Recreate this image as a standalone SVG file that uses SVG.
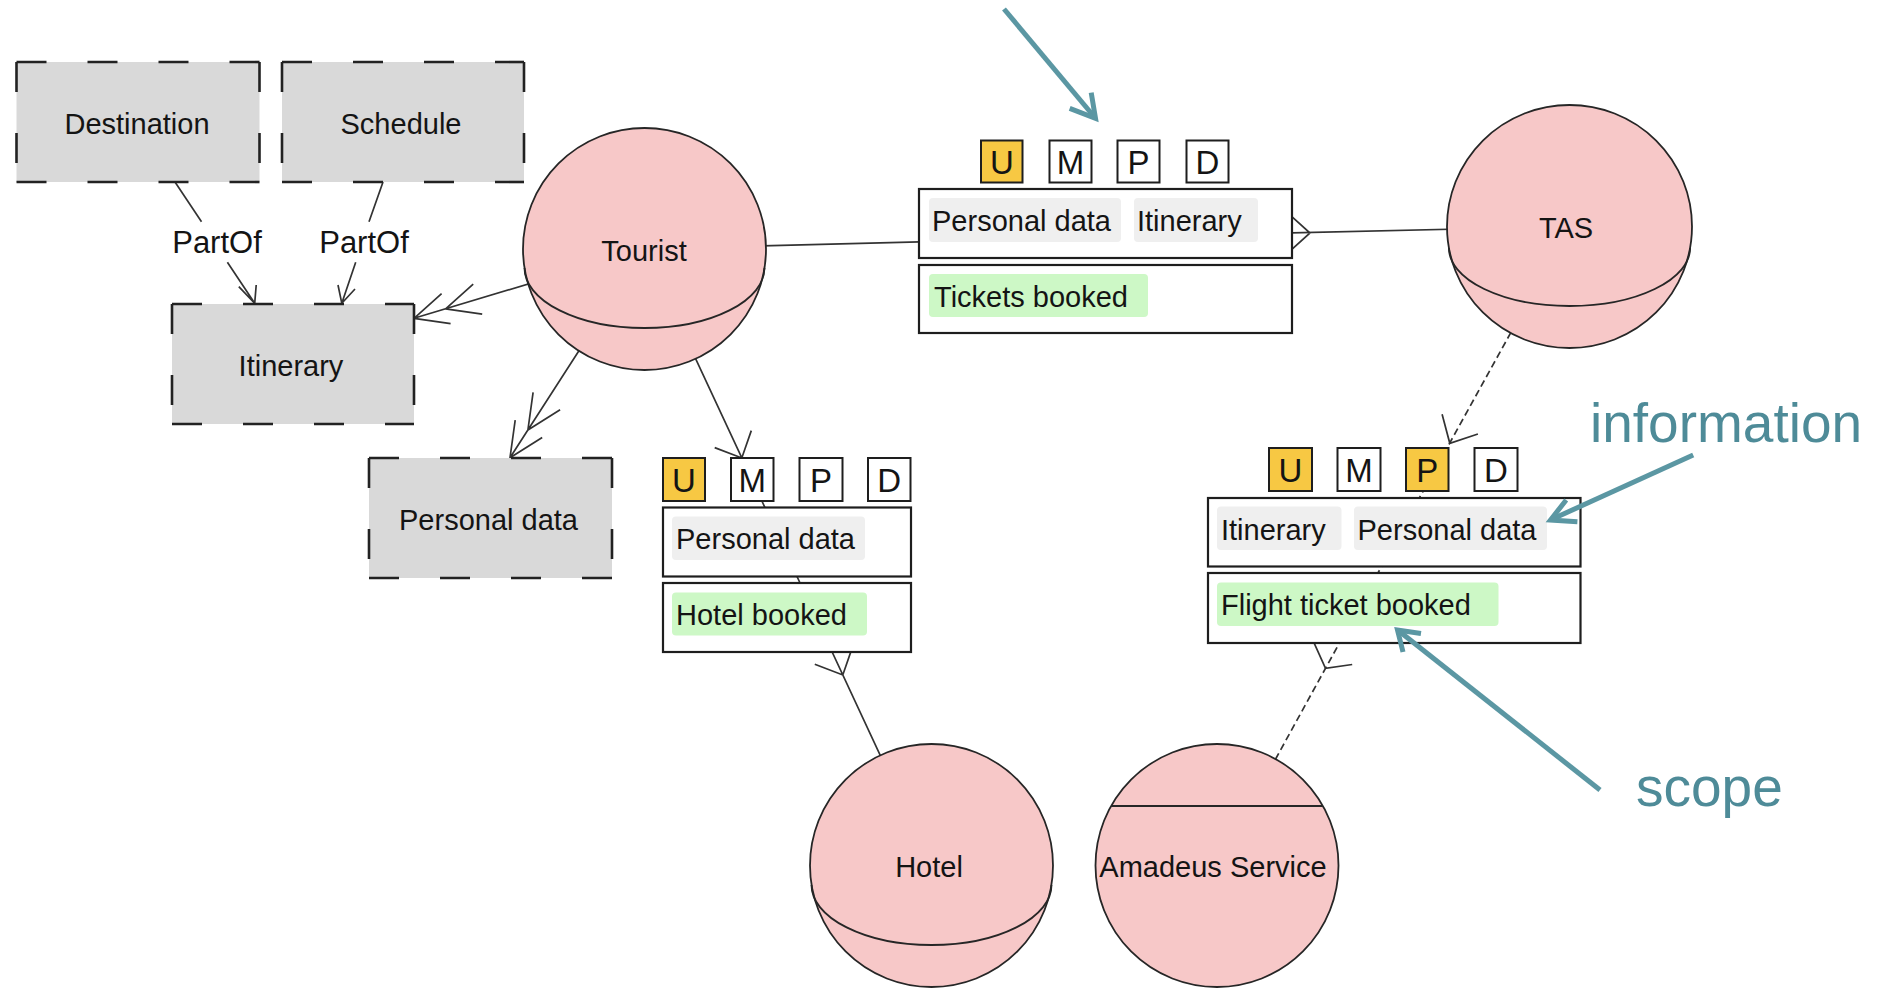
<svg xmlns="http://www.w3.org/2000/svg" width="1884" height="988" viewBox="0 0 1884 988">
  <style>
    .lbl { font-family: "Liberation Sans", Arial, sans-serif; font-size: 29px; fill: #141414; }
    .mid { text-anchor: middle; }
    .key { font-size: 33px; }
    .part { font-size: 31px; }
    .ann { font-family: "Liberation Sans", Arial, sans-serif; font-size: 55px; fill: #4e8b98; }
    .role { fill: #f7c8c8; stroke: #262626; stroke-width: 1.8; }
    .rim { fill: none; stroke: #262626; stroke-width: 1.8; }
    .res { fill: #ffffff; stroke: #1e1e1e; stroke-width: 2.2; }
    .chip { fill: #efefef; }
    .chipg { fill: #cdf8c6; }
    .keybox { fill: #ffffff; stroke: #1e1e1e; stroke-width: 2; }
    .on { fill: #f7c843; }
    .dbox { fill: #d9d9d9; }
    .dedge { stroke: #222222; stroke-width: 2.6; stroke-dasharray: 30 41; fill: none; }
    .ln { stroke: #333333; stroke-width: 1.7; fill: none; }
    .dl { stroke-dasharray: 7 4; }
    .teal { stroke: #5b97a3; stroke-width: 5; fill: none; stroke-linejoin: miter; }
  </style>

  <rect width="1884" height="988" fill="#ffffff"/>

  <!-- connectors, drawn beneath the nodes so that boxes and roles hide their inner parts -->
  <g id="connectors">
    <!-- PartOf: Destination -> Itinerary -->
    <path class="ln" d="M175,182 L201.5,221.7 M227.4,262.3 L254.7,303.3 M238.8,286.7 L254.7,303.3 L256.2,285"/>
    <!-- PartOf: Schedule -> Itinerary -->
    <path class="ln" d="M383,182 L369,221.7 M355.7,262.3 L341.8,303.3 M338,285 L341.8,303.3 L355,289"/>
    <!-- Tourist -> Itinerary (double open head) -->
    <path class="ln" d="M644.5,249 L414,318.3 M450.6,323.6 L414,318.3 L441.6,293.7 M482.2,314.1 L445.6,308.8 L473.2,284.2"/>
    <!-- Tourist -> Personal data (double open head) -->
    <path class="ln" d="M644.5,249 L510,457.7 M542.2,437.5 L510,457.7 L515.2,420.1 M560.1,409.8 L527.9,430 L533.1,392.4"/>
    <!-- Tourist - Tickets booked provision -->
    <path class="ln" d="M644.5,249 L1105.5,237"/>
    <!-- TAS - Tickets booked provision -->
    <path class="ln" d="M1569.5,226.5 L1105.5,237 M1287.7,212.9 L1310,233 L1287.7,253.1"/>
    <!-- Tourist -> Hotel booked provision -->
    <path class="ln" d="M644.5,249 L787,555 M751.3,430.6 L741.8,458 L714.7,447.6"/>
    <!-- Hotel - Hotel booked provision -->
    <path class="ln" d="M931.5,865.5 L787,555 M852.6,646.6 L842.8,675 L814.8,664.2"/>
    <!-- TAS -> Flight ticket booked (dashed) -->
    <path class="ln dl" d="M1569.5,226.5 L1395,542"/>
    <path class="ln" d="M1477.9,434 L1449.8,443.3 L1442.1,414.2"/>
    <!-- Amadeus Service - Flight ticket booked (dashed) -->
    <path class="ln dl" d="M1217,865.5 L1395,542"/>
    <path class="ln" d="M1352.2,664.5 L1325.5,668.3 L1314.4,643.7"/>
  </g>

  <!-- goal/information boxes -->
  <g id="destination">
    <rect class="dbox" x="16.5" y="62" width="243" height="120"/>
    <line class="dedge" x1="16.5" y1="62" x2="259.5" y2="62"/>
    <line class="dedge" x1="16.5" y1="182" x2="259.5" y2="182"/>
    <line class="dedge" x1="16.5" y1="62" x2="16.5" y2="182"/>
    <line class="dedge" x1="259.5" y1="62" x2="259.5" y2="182"/>
    <text class="lbl mid" x="137" y="134">Destination</text>
  </g>
  <g id="schedule">
    <rect class="dbox" x="282" y="62" width="242" height="120"/>
    <line class="dedge" x1="282" y1="62" x2="524" y2="62"/>
    <line class="dedge" x1="282" y1="182" x2="524" y2="182"/>
    <line class="dedge" x1="282" y1="62" x2="282" y2="182"/>
    <line class="dedge" x1="524" y1="62" x2="524" y2="182"/>
    <text class="lbl mid" x="401" y="134">Schedule</text>
  </g>
  <g id="partof-labels">
    <text class="lbl part mid" x="217" y="253">PartOf</text>
    <text class="lbl part mid" x="364" y="253">PartOf</text>
  </g>
  <g id="itinerary">
    <rect class="dbox" x="172" y="304" width="242" height="120"/>
    <line class="dedge" x1="172" y1="304" x2="414" y2="304"/>
    <line class="dedge" x1="172" y1="424" x2="414" y2="424"/>
    <line class="dedge" x1="172" y1="304" x2="172" y2="424"/>
    <line class="dedge" x1="414" y1="304" x2="414" y2="424"/>
    <text class="lbl mid" x="291" y="376">Itinerary</text>
  </g>
  <g id="personal-data">
    <rect class="dbox" x="369" y="458" width="243" height="120"/>
    <line class="dedge" x1="369" y1="458" x2="612" y2="458"/>
    <line class="dedge" x1="369" y1="578" x2="612" y2="578"/>
    <line class="dedge" x1="369" y1="458" x2="369" y2="578"/>
    <line class="dedge" x1="612" y1="458" x2="612" y2="578"/>
    <text class="lbl mid" x="488.5" y="530">Personal data</text>
  </g>

  <!-- roles: sphere with a lower rim arc -->
  <g id="tourist">
    <ellipse class="role" cx="644.5" cy="249" rx="121.5" ry="121"/>
    <path class="rim" d="M524.5,268 A120 60 0 0 0 764.5,268"/>
    <text class="lbl mid" x="644" y="261">Tourist</text>
  </g>
  <g id="tas">
    <ellipse class="role" cx="1569.5" cy="226.5" rx="122.5" ry="121.5"/>
    <path class="rim" d="M1448.9,248 A120.6 58 0 0 0 1690.1,248"/>
    <text class="lbl mid" x="1566" y="238">TAS</text>
  </g>
  <g id="hotel">
    <ellipse class="role" cx="931.5" cy="865.5" rx="121.5" ry="121.5"/>
    <path class="rim" d="M811.5,885 A120 60 0 0 0 1051.5,885"/>
    <text class="lbl mid" x="929" y="877">Hotel</text>
  </g>
  <!-- agent -->
  <g id="amadeus-service">
    <ellipse class="role" cx="1217" cy="865.5" rx="121.5" ry="121.5"/>
    <line x1="1111.1" y1="806" x2="1322.9" y2="806" stroke="#262626" stroke-width="1.8"/>
    <text class="lbl mid" x="1213" y="877">Amadeus Service</text>
  </g>

  <!-- authorisation: Tourist / TAS, tickets booked -->
  <g id="auth-tickets">
    <rect class="keybox on" x="981" y="140.5" width="41.5" height="42"/>
    <rect class="keybox" x="1049.5" y="140.5" width="42" height="42"/>
    <rect class="keybox" x="1117.5" y="140.5" width="42" height="42"/>
    <rect class="keybox" x="1186.5" y="140.5" width="42" height="42"/>
    <text class="lbl key mid" x="1002" y="173.5">U</text>
    <text class="lbl key mid" x="1070.5" y="173.5">M</text>
    <text class="lbl key mid" x="1138.5" y="173.5">P</text>
    <text class="lbl key mid" x="1207.5" y="173.5">D</text>
    <rect class="res" x="919" y="189" width="373" height="69"/>
    <rect class="chip" x="929" y="198" width="192" height="44" rx="4"/>
    <rect class="chip" x="1134" y="198" width="124" height="44" rx="4"/>
    <text class="lbl" x="932" y="231">Personal data</text>
    <text class="lbl" x="1137" y="231">Itinerary</text>
    <rect class="res" x="919" y="265" width="373" height="68"/>
    <rect class="chipg" x="929" y="274" width="219" height="43" rx="4"/>
    <text class="lbl" x="934" y="306.5">Tickets booked</text>
  </g>

  <!-- authorisation: Tourist / Hotel, hotel booked -->
  <g id="auth-hotel">
    <rect class="keybox on" x="663" y="458" width="42" height="43"/>
    <rect class="keybox" x="731" y="458" width="42.5" height="43"/>
    <rect class="keybox" x="799.5" y="458" width="43" height="43"/>
    <rect class="keybox" x="868" y="458" width="42.5" height="43"/>
    <text class="lbl key mid" x="684" y="491.5">U</text>
    <text class="lbl key mid" x="752.2" y="491.5">M</text>
    <text class="lbl key mid" x="821" y="491.5">P</text>
    <text class="lbl key mid" x="889.2" y="491.5">D</text>
    <rect class="res" x="663" y="507.5" width="248" height="69"/>
    <rect class="chip" x="672" y="516.5" width="193" height="43.5" rx="4"/>
    <text class="lbl" x="676" y="549">Personal data</text>
    <rect class="res" x="663" y="583" width="248" height="69"/>
    <rect class="chipg" x="672" y="592.5" width="195" height="43" rx="4"/>
    <text class="lbl" x="676" y="625">Hotel booked</text>
  </g>

  <!-- authorisation: TAS / Amadeus Service, flight ticket booked -->
  <g id="auth-flight">
    <rect class="keybox on" x="1269" y="448" width="43" height="43"/>
    <rect class="keybox" x="1337.5" y="448" width="43" height="43"/>
    <rect class="keybox on" x="1406" y="448" width="42.5" height="43"/>
    <rect class="keybox" x="1474.5" y="448" width="43" height="43"/>
    <text class="lbl key mid" x="1290.5" y="481.5">U</text>
    <text class="lbl key mid" x="1359" y="481.5">M</text>
    <text class="lbl key mid" x="1427.2" y="481.5">P</text>
    <text class="lbl key mid" x="1496" y="481.5">D</text>
    <rect class="res" x="1208" y="498" width="372.5" height="68.5"/>
    <rect class="chip" x="1217" y="506.5" width="124.5" height="43.5" rx="4"/>
    <rect class="chip" x="1354" y="506.5" width="193" height="43.5" rx="4"/>
    <text class="lbl" x="1221" y="540">Itinerary</text>
    <text class="lbl" x="1357.5" y="540">Personal data</text>
    <rect class="res" x="1208" y="573" width="372.5" height="70"/>
    <rect class="chipg" x="1217" y="582.5" width="281.5" height="43.5" rx="4"/>
    <text class="lbl" x="1221" y="615">Flight ticket booked</text>
  </g>

  <!-- callouts -->
  <g id="callouts">
    <path class="teal" d="M1004,9 L1094,116.5"/>
    <path class="teal" d="M1069.7,108.3 L1095.5,118.3 L1091.2,92.7"/>
    <text class="ann" x="1590" y="442">information</text>
    <path class="teal" d="M1693.2,455 L1552.5,519"/>
    <path class="teal" d="M1566.2,500 L1550.5,520 L1577.4,521.7"/>
    <text class="ann" x="1636" y="806">scope</text>
    <path class="teal" d="M1600,790 L1399.5,631.5"/>
    <path class="teal" d="M1421,633.5 L1397.5,630 L1403,652"/>
  </g>
</svg>
